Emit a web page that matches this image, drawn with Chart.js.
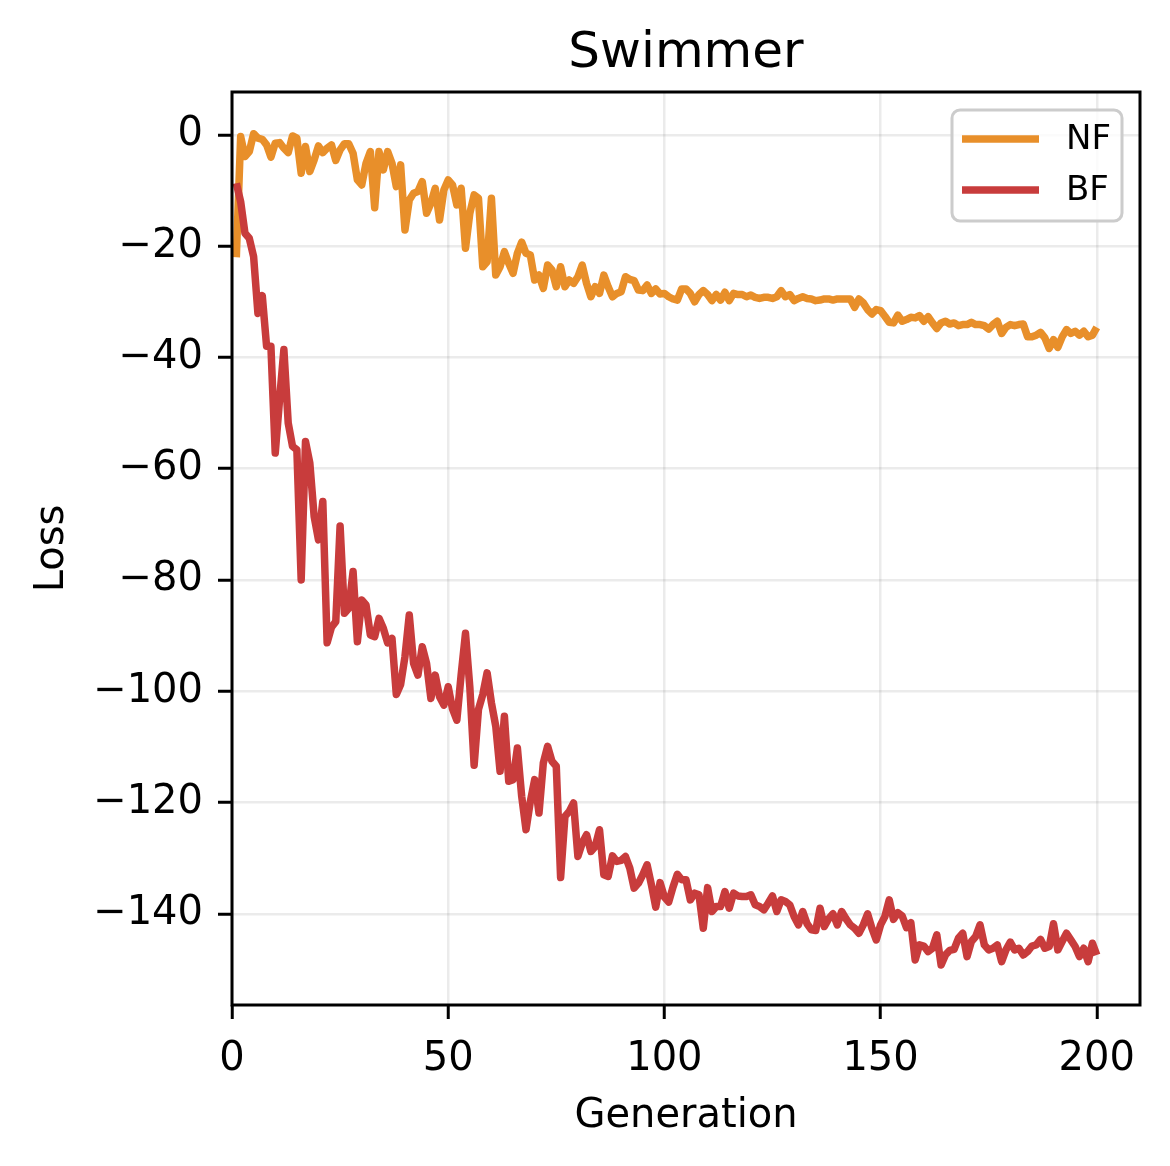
<!DOCTYPE html>
<html>
<head>
<meta charset="utf-8">
<script src="https://cdn.jsdelivr.net/npm/chart.js@4"></script>
<style>
  html, body { margin: 0; padding: 0; background: #fff; }
  canvas { display: block; }
</style>
</head>
<body>
<canvas id="lossChart" width="1170" height="1166"></canvas>
<script>
// generations 1..200
const generations = Array.from({ length: 200 }, (_, i) => i + 1);

const nfLoss = [
  -22.0, -0.3, -3.9, -3.0, 0.2, -0.6, -0.8, -1.8, -4.0, -1.5,
  -1.4, -2.4, -3.2, -0.2, -0.6, -6.9, -2.1, -6.6, -4.5, -2.0,
  -3.2, -2.4, -1.8, -4.6, -2.7, -1.6, -1.6, -3.3, -8.1, -9.0,
  -5.1, -3.0, -13.1, -3.0, -6.3, -3.0, -5.1, -9.3, -5.4, -17.1,
  -11.7, -10.5, -10.2, -8.4, -14.1, -12.3, -9.6, -15.3, -9.9, -8.1,
  -9.0, -12.6, -9.6, -20.4, -14.1, -10.8, -11.4, -23.7, -22.8, -11.4,
  -25.2, -23.7, -21.0, -23.1, -24.9, -21.3, -19.3, -21.3, -21.6, -26.1,
  -25.2, -27.6, -23.4, -24.3, -27.3, -23.7, -27.3, -26.1, -26.7, -25.5,
  -23.4, -26.7, -29.1, -27.3, -28.5, -25.2, -27.3, -29.1, -28.5, -28.2,
  -25.5, -26.0, -26.2, -27.9, -28.0, -27.0, -28.5, -27.7, -28.6, -28.5,
  -29.1, -29.5, -29.7, -27.7, -27.7, -28.5, -30.0, -28.7, -28.0, -28.7,
  -29.8, -28.7, -29.7, -28.3, -29.8, -28.5, -28.7, -28.7, -29.1, -28.8,
  -29.2, -29.4, -29.2, -29.2, -29.4, -29.1, -28.0, -29.1, -28.7, -29.8,
  -29.4, -29.1, -29.4, -29.5, -29.8, -29.7, -29.5, -29.5, -29.7, -29.5,
  -29.5, -29.5, -29.5, -31.0, -29.5, -30.2, -31.4, -32.2, -31.4, -31.6,
  -32.6, -33.7, -33.8, -32.4, -33.5, -33.2, -32.8, -32.9, -32.5, -33.5,
  -32.7, -33.8, -34.8, -33.8, -33.5, -34.0, -33.8, -34.3, -34.1, -34.1,
  -33.7, -34.1, -34.1, -34.3, -34.9, -34.1, -33.5, -35.7, -34.6, -34.1,
  -34.3, -34.1, -34.0, -36.3, -36.3, -36.0, -35.5, -36.5, -38.4, -36.8,
  -38.2, -36.3, -35.0, -35.7, -35.3, -36.0, -35.3, -36.3, -36.0, -34.6
];

const bfLoss = [
  -8.7, -12.0, -17.7, -18.6, -21.9, -32.1, -28.9, -38.0, -38.0, -57.2,
  -47.6, -38.6, -51.8, -56.0, -56.6, -80.0, -55.1, -59.0, -68.6, -72.8,
  -65.9, -91.3, -88.5, -87.5, -70.3, -86.0, -85.1, -78.5, -91.1, -83.6,
  -84.5, -89.9, -90.2, -86.9, -88.7, -91.3, -90.5, -100.6, -98.8, -93.8,
  -86.3, -95.0, -97.1, -92.0, -95.0, -101.3, -97.1, -101.0, -102.5, -99.2,
  -103.2, -105.2, -97.0, -89.6, -99.2, -113.3, -103.3, -100.6, -96.7, -102.1,
  -106.3, -114.4, -104.5, -116.2, -115.9, -110.2, -118.9, -124.9, -119.8, -115.9,
  -121.9, -112.9, -109.9, -112.6, -113.5, -133.5, -122.5, -121.6, -120.1, -129.7,
  -127.3, -125.8, -128.8, -127.9, -124.9, -133.0, -133.3, -129.6, -130.6, -130.4,
  -129.7, -131.8, -135.4, -134.5, -133.0, -131.2, -134.8, -138.8, -134.4, -137.0,
  -137.9, -135.2, -132.9, -133.9, -133.9, -137.5, -136.3, -136.6, -142.6, -135.3,
  -139.6, -138.7, -138.7, -136.0, -139.0, -136.3, -136.8, -136.9, -136.9, -136.6,
  -138.4, -138.7, -139.3, -138.1, -136.8, -139.6, -137.5, -137.8, -138.4, -140.5,
  -142.0, -139.6, -141.8, -142.9, -143.0, -139.0, -142.3, -140.9, -140.0, -142.0,
  -139.6, -140.9, -142.0, -142.6, -143.5, -142.0, -140.0, -142.6, -144.7, -142.0,
  -140.5, -137.5, -141.0, -139.8, -140.4, -142.5, -141.6, -148.3, -145.6, -145.8,
  -146.8, -146.2, -143.8, -149.2, -147.4, -146.6, -146.4, -144.4, -143.5, -147.7,
  -145.0, -144.1, -142.0, -145.6, -146.5, -146.2, -145.6, -148.6, -146.5, -145.1,
  -146.5, -146.2, -147.4, -146.8, -145.8, -145.6, -144.6, -146.2, -145.9, -141.8,
  -146.5, -145.0, -143.5, -144.7, -145.9, -147.7, -146.2, -148.6, -145.3, -147.4
];

const xTicks = [0, 50, 100, 150, 200];
const yTicks = [0, -20, -40, -60, -80, -100, -120, -140];

const NF_COLOR = "#E88F2A";
const BF_COLOR = "#C83C3C";
const FONT = "DejaVu Sans";
const LINE_W = 7.5;

function points(ys) {
  return ys.map((y, i) => ({ x: generations[i], y: y }));
}

// title centred over the axes, frame, and a matplotlib-style legend
const framePlugin = {
  id: "frame",
  afterDraw(chart) {
    const { ctx, chartArea: a } = chart;
    ctx.save();
    ctx.strokeStyle = "#000";
    ctx.lineWidth = 3;
    ctx.strokeRect(a.left, a.top, a.right - a.left, a.bottom - a.top);

    ctx.fillStyle = "#000";
    ctx.font = "50px '" + FONT + "'";
    ctx.textAlign = "center";
    ctx.textBaseline = "middle";
    ctx.fillText("Swimmer", (a.left + a.right) / 2, 54);

    // legend box
    const bx = 952, by = 110, bw = 170, bh = 111, r = 8;
    ctx.beginPath();
    ctx.roundRect(bx, by, bw, bh, r);
    ctx.fillStyle = "rgba(255,255,255,0.8)";
    ctx.fill();
    ctx.strokeStyle = "#cccccc";
    ctx.lineWidth = 3;
    ctx.stroke();

    ctx.font = "34px '" + FONT + "'";
    ctx.textAlign = "left";
    chart.data.datasets.forEach((ds, i) => {
      const y = 139 + i * 51;
      ctx.strokeStyle = ds.borderColor;
      ctx.lineWidth = LINE_W;
      ctx.beginPath();
      ctx.moveTo(962, y);
      ctx.lineTo(1039, y);
      ctx.stroke();
      ctx.fillStyle = "#000";
      ctx.fillText(ds.label, 1066, y + 1);
    });
    ctx.restore();
  }
};

const minusFmt = v => (v < 0 ? "\u2212" + Math.abs(v) : String(v));

const ctx = document.getElementById("lossChart").getContext("2d");
new Chart(ctx, {
  type: "line",
  data: {
    datasets: [
      {
        label: "NF",
        data: points(nfLoss),
        borderColor: NF_COLOR,
        borderWidth: LINE_W,
        pointRadius: 0,
        tension: 0,
        borderJoinStyle: "round",
        order: 1
      },
      {
        label: "BF",
        data: points(bfLoss),
        borderColor: BF_COLOR,
        borderWidth: LINE_W,
        pointRadius: 0,
        tension: 0,
        borderJoinStyle: "round",
        order: 0
      }
    ]
  },
  options: {
    responsive: false,
    animation: false,
    devicePixelRatio: 1,
    layout: { padding: { left: 0, right: 30, top: 92, bottom: 0 } },
    plugins: {
      legend: { display: false },
      tooltip: { enabled: false },
      title: { display: false }
    },
    scales: {
      x: {
        type: "linear",
        min: 0,
        max: 210,
        afterBuildTicks: s => { s.ticks = xTicks.map(v => ({ value: v })); },
        afterFit: s => { s.height = 161; },
        grid: {
          color: "rgba(0,0,0,0.08)",
          lineWidth: 2.5,
          tickColor: "#000",
          tickLength: 14,
          tickWidth: 3
        },
        border: { display: false },
        ticks: {
          color: "#000",
          padding: 17,
          maxRotation: 0,
          font: { family: FONT, size: 40 },
          callback: minusFmt
        },
        title: {
          display: true,
          text: "Generation",
          color: "#000",
          font: { family: FONT, size: 40, lineHeight: 1.2 },
          padding: { top: 29, bottom: 25 }
        }
      },
      y: {
        type: "linear",
        min: -156.4,
        max: 7.7,
        afterBuildTicks: s => { s.ticks = yTicks.map(v => ({ value: v })); },
        afterFit: s => { s.width = 232; },
        grid: {
          color: "rgba(0,0,0,0.08)",
          lineWidth: 2.5,
          tickColor: "#000",
          tickLength: 14,
          tickWidth: 3
        },
        border: { display: false },
        ticks: {
          color: "#000",
          padding: 15,
          font: { family: FONT, size: 40 },
          callback: minusFmt
        },
        title: {
          display: true,
          text: "Loss",
          color: "#000",
          font: { family: FONT, size: 40, lineHeight: 1.2 },
          padding: { top: 29, bottom: 29 }
        }
      }
    }
  },
  plugins: [framePlugin]
});
</script>
</body>
</html>
